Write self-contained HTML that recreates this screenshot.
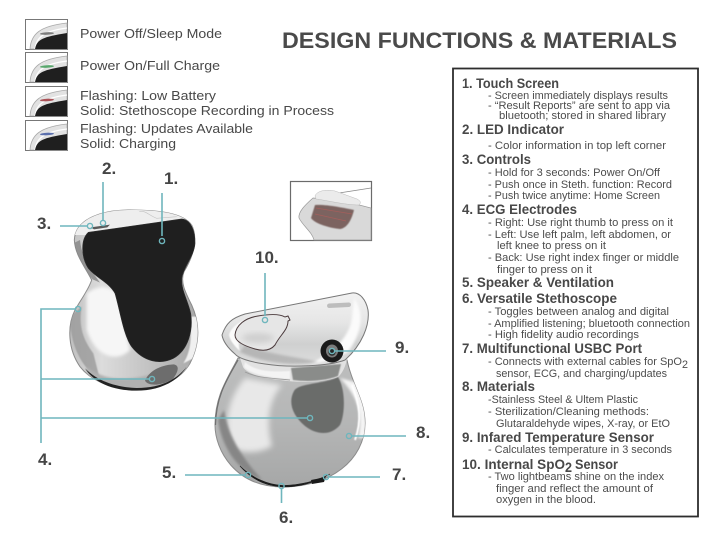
<!DOCTYPE html>
<html lang="en"><head><meta charset="utf-8"><title>Design Functions &amp; Materials</title>
<style>
html,body{margin:0;padding:0;background:#fff;width:713px;height:534px;overflow:hidden}
svg{display:block}
text{font-family:"Liberation Sans",sans-serif;fill:#4a4a4a}
.h{font-size:13.6px;font-weight:bold;fill:#484848}
.s{font-size:11px;fill:#4c4c4c}
.l{font-size:12.8px;fill:#484848}
.n{font-size:17px;font-weight:bold;fill:#454545}
.c{stroke:#6fb6bd;stroke-width:1.6;fill:none}
</style></head><body>
<svg width="713" height="534" viewBox="0 0 713 534" xmlns="http://www.w3.org/2000/svg">
<defs>
<filter id="b0" x="-40%" y="-40%" width="180%" height="180%"><feGaussianBlur stdDeviation="5"/></filter>
<filter id="b1" x="-30%" y="-30%" width="160%" height="160%"><feGaussianBlur stdDeviation="3"/></filter>
<filter id="b2" x="-30%" y="-30%" width="160%" height="160%"><feGaussianBlur stdDeviation="1.2"/></filter>
<filter id="b3" x="-30%" y="-30%" width="160%" height="160%"><feGaussianBlur stdDeviation="0.5"/></filter>
<linearGradient id="bodyA" x1="0" y1="0" x2="0" y2="1"><stop offset="0" stop-color="#bdbebe"/><stop offset=".5" stop-color="#b5b6b6"/><stop offset="1" stop-color="#a6a7a7"/></linearGradient>
<linearGradient id="headA" x1="0" y1="0" x2="0" y2="1"><stop offset="0" stop-color="#f2f2f2"/><stop offset=".4" stop-color="#e6e6e6"/><stop offset=".7" stop-color="#cfd0d0"/><stop offset="1" stop-color="#dedede"/></linearGradient>
<linearGradient id="b1g" x1="0" y1="0" x2="1" y2="0"><stop offset="0" stop-color="#c0c0c0"/><stop offset=".25" stop-color="#dcdcdc"/><stop offset=".7" stop-color="#bdbdbd"/><stop offset="1" stop-color="#a8a8a8"/></linearGradient>
<clipPath id="cb2"><path d="M238 358 C228 378 215 395 215 425 C215 450 235 487 283 487 C330 487 365 460 365 423 C365 400 352 385 347 360Z"/></clipPath>
<clipPath id="cb1"><path d="M163 270 C165 215 230 180 330 180 C420 180 490 190 515 225 C535 265 520 320 492 365 C480 395 495 425 515 465 C540 520 540 580 510 640 C480 690 420 718 350 718 C280 718 215 695 180 650 C145 600 140 530 165 480 C185 445 205 420 215 390 C195 350 165 315 163 270Z"/></clipPath>
<symbol id="thumb" viewBox="0 0 43 31" width="43" height="31">
<rect x=".5" y=".5" width="42" height="30" fill="#fff" stroke="#777" stroke-width="1"/>
<path d="M5 30 C6 15 15 7 42 4 L42 30Z" fill="#e2e2e2" stroke="#aaa" stroke-width=".8"/>
<path d="M10 30 C11 19 18 12 42 9" fill="none" stroke="#fff" stroke-width="1.2"/>
<path d="M10 30 C12 20 18 18 42 14 L42 30Z" fill="#1f1f1f"/>
</symbol>
</defs>

<!-- legend -->
<use href="#thumb" x="25" y="19"/>
<ellipse cx="47" cy="33.5" rx="7" ry="1.3" fill="#7b7b7b" transform="rotate(-3 47 33.5)"/>
<use href="#thumb" x="25" y="52"/>
<ellipse cx="47" cy="66.5" rx="7" ry="1.3" fill="#58a76c" transform="rotate(-3 47 66.5)"/>
<use href="#thumb" x="25" y="86"/>
<ellipse cx="47" cy="100" rx="7" ry="1.3" fill="#ab5257" transform="rotate(-3 47 100)"/>
<use href="#thumb" x="25" y="120"/>
<ellipse cx="47" cy="134" rx="7" ry="1.3" fill="#5b70ad" transform="rotate(-3 47 134)"/>

<text class="l" x="80" y="38" textLength="142" lengthAdjust="spacingAndGlyphs">Power Off/Sleep Mode</text>
<text class="l" x="80" y="70" textLength="140" lengthAdjust="spacingAndGlyphs">Power On/Full Charge</text>
<text class="l" x="80" y="100" textLength="136" lengthAdjust="spacingAndGlyphs">Flashing: Low Battery</text>
<text class="l" x="80" y="115" textLength="254" lengthAdjust="spacingAndGlyphs">Solid: Stethoscope Recording in Process</text>
<text class="l" x="80" y="133" textLength="173" lengthAdjust="spacingAndGlyphs">Flashing: Updates Available</text>
<text class="l" x="80" y="148" textLength="96" lengthAdjust="spacingAndGlyphs">Solid: Charging</text>

<text x="282" y="48" font-size="22.500" font-weight="bold" style="fill:#4a4a4a" textLength="395" lengthAdjust="spacingAndGlyphs">DESIGN FUNCTIONS &amp; MATERIALS</text>

<!-- device 1 -->
<g transform="translate(20 150) scale(.33333)">
<path d="M163 270 C165 215 230 180 330 180 C420 180 490 190 515 225 C535 265 520 320 492 365 C480 395 495 425 515 465 C540 520 540 580 510 640 C480 690 420 718 350 718 C280 718 215 695 180 650 C145 600 140 530 165 480 C185 445 205 420 215 390 C195 350 165 315 163 270Z" fill="url(#b1g)" stroke="#8a8a8a" stroke-width="3"/>
<g clip-path="url(#cb1)">
<rect x="150" y="170" width="400" height="85" fill="#eeeeee"/>
<path d="M200 430 C240 400 280 410 295 440 L330 600 C290 640 225 620 200 540Z" fill="#f6f6f6" filter="url(#b0)"/>
<path d="M150 500 C150 580 180 650 240 690 L220 610 C190 570 175 530 185 470Z" fill="#9a9a9a" filter="url(#b2)" opacity=".8"/>
<path d="M200 650 C260 700 340 690 400 670 L520 640 L480 720 L200 720Z" fill="#b0b0b0" filter="url(#b1)"/>
<path d="M160 280 C165 320 190 355 218 388 L240 398 C205 350 185 320 180 270Z" fill="#8a8a8a" opacity=".85"/>
<path d="M505 500 C520 560 510 610 490 640 L530 620 L540 500Z" fill="#f0f0f0" filter="url(#b2)"/>
</g>
<path d="M195 655 C240 700 300 712 350 714 C420 714 470 690 500 650 C470 700 410 722 350 722 C280 722 225 700 195 655Z" fill="#222"/>
<path d="M358 185 C375 180 385 195 410 205 L470 200" fill="none" stroke="#c4c4c4" stroke-width="2"/>
<path d="M205 247 L485 207 C515 210 525 245 525 280 C522 320 490 350 485 385 C483 420 503 450 512 490 C520 540 505 600 460 625 C420 645 370 635 335 590 C310 555 300 480 285 430 C265 395 230 385 205 355 C185 325 180 270 205 247Z" fill="#1f1f1f" stroke="#2c2c2c" stroke-width="2"/>
<path d="M375 692 C385 665 420 645 460 643 C480 645 475 665 460 685 C435 705 385 712 375 692Z" fill="#6d6d6d" filter="url(#b3)"/>
<path d="M212 232 L270 224 L262 232 L222 238Z" fill="#5a5a5a"/>
</g>

<!-- device 2 body -->
<path d="M238 358 C228 378 215 395 215 425 C215 450 235 487 283 487 C330 487 365 460 365 423 C365 400 352 385 347 360Z" fill="url(#bodyA)" stroke="#8b8b8b" stroke-width="1"/>
<g clip-path="url(#cb2)">
<path d="M245 378 C228 398 222 425 232 448 C246 455 262 452 272 446 C266 425 268 400 282 385Z" fill="#e8e8e8" filter="url(#b1)"/>
<path d="M218 420 C222 450 240 472 262 480 C240 455 228 435 224 410Z" fill="#868686" filter="url(#b2)"/>
<path d="M340 378 C356 395 364 412 358 438 L366 438 L366 385Z" fill="#f4f4f4" filter="url(#b2)"/>
<path d="M352 385 C360 405 362 420 355 440" fill="none" stroke="#ffffff" stroke-width="2" filter="url(#b3)"/>
</g>
<path d="M240 466 C255 483 270 486 283 487 C298 487 312 484 330 474 C315 482 300 485 283 485.500 C268 485 252 478 240 466Z" fill="#1c1c1c" stroke="#1c1c1c" stroke-width=".6"/>
<path d="M311 480 C316 479 322 478 326 476 L324 482 L312 484Z" fill="#1a1a1a"/>
<path d="M238 360 C228 378 216 395 215.500 425" fill="none" stroke="#6f6f6f" stroke-width="1.2"/>
<!-- back window -->
<path d="M294 391 C298 383 325 384 338 377 C346 390 345 415 340 425 C330 437 315 434 305 426 C292 415 288 402 294 391Z" fill="#6b6c6b" filter="url(#b3)"/>

<!-- neck -->
<path d="M240 358 L347 358 C346 366 342 374 338 377 C322 383 300 383 280 380 C262 378 247 374 243 367Z" fill="#e2e2e2"/>
<path d="M291 368 L341 364 L338 376 C325 381 308 382 293 380Z" fill="#8a8c8a" filter="url(#b3)"/>
<path d="M245 362 C255 372 275 372 290 371 L290 379 C270 378 250 374 244 367Z" fill="#f4f4f4" filter="url(#b3)"/>
<path d="M245 372 C258 378 270 378 290 380" fill="none" stroke="#9a9a9a" stroke-width=".8"/>

<!-- device 2 head -->
<path d="M222 335 C226 323 232 318 245 314 L352 293 C360 292 366 300 368 310 C370 325 362 345 345 360 C330 366 290 368 265 364 C250 362 238 358 235 354 C228 348 223 341 222 335Z" fill="url(#headA)" stroke="#777" stroke-width="1"/>
<path d="M229 335 C231 327 240 321 250 318 L258 320 C243 325 236 340 240 351 C234 346 230 340 229 335Z" fill="#fbfbfb" filter="url(#b3)"/>
<path d="M354 298 C364 312 363 332 348 352 C338 358 325 362 310 364 C335 352 350 335 352 318Z" fill="#fbfbfb" filter="url(#b2)"/>
<path d="M240 352 C265 364 295 366 318 362 C300 357 270 355 245 345Z" fill="#a9a9a9" filter="url(#b2)" opacity=".7"/>
<rect x="327" y="303" width="24" height="4.500" rx="2.200" fill="#bdbdbd" transform="rotate(-3 339 305)"/>
<path d="M235 335 C236 325 245 318 258 316 C270 314 280 314 285 317 L288 316 L290 320 L288 321 C288 330 280 335 275 345 C270 351 262 351 255 349 C245 346 235 342 235 335Z" fill="#e6e6e6" stroke="#4a3a3c" stroke-width="1"/>
<ellipse cx="258" cy="338" rx="16" ry="5" fill="#cfcfcf" filter="url(#b1)"/>
<!-- sensor -->
<circle cx="332" cy="351" r="11.500" fill="#1a1a1a"/>
<ellipse cx="332" cy="351" rx="6" ry="6.500" fill="#7c7c7c"/>
<ellipse cx="332" cy="352" rx="3.600" ry="3.800" fill="#262626"/>

<!-- inset -->
<rect x="290.500" y="181.500" width="81" height="59" fill="#fff" stroke="#6b6b6b" stroke-width="1.200"/>
<path d="M313 198 C305 205 298 212 299 218 C303 226 312 232 314 240 L371 240 L371 208 L340 200Z" fill="#d9d9d9" stroke="#9a9a9a" stroke-width=".7"/>
<path d="M339 193 L371 188" stroke="#888" stroke-width=".8" fill="none"/>
<path d="M315 205 C325 204 345 208 354 210 C352 218 348 228 340 229 C330 228 315 224 311 218Z" fill="#7b6360" filter="url(#b3)"/>
<path d="M316 208 L352 214 M315 214 L346 221" stroke="#a45f5c" stroke-width=".7" fill="none"/>
<path d="M315 196 C317 191 325 189 335 191 L357 199 C361 201 361 203 359 205 C345 205 325 200 316 199Z" fill="#ebebeb" stroke="#bbb" stroke-width=".5"/>

<!-- connectors -->
<g class="c">
<path d="M162 193V236"/><circle cx="162" cy="241" r="2.600" stroke-width="1.400"/>
<path d="M103 182V220"/><circle cx="103" cy="223" r="2.600" stroke-width="1.400"/>
<path d="M60 226H87"/><circle cx="90" cy="226" r="2.600" stroke-width="1.400"/>
<path d="M41 443V309H75"/><circle cx="78" cy="309" r="2.600" stroke-width="1.400"/>
<path d="M41 379H149"/><circle cx="152" cy="379" r="2.600" stroke-width="1.400"/>
<path d="M41 418H307"/><circle cx="310" cy="418" r="2.600" stroke-width="1.400"/>
<path d="M265 273V316"/><circle cx="265" cy="320" r="2.600" stroke-width="1.400"/>
<path d="M335 351H386"/><circle cx="332" cy="351" r="2.600" stroke-width="1.400"/>
<path d="M352 436H406"/><circle cx="349" cy="436" r="2.600" stroke-width="1.400"/>
<path d="M185 475H245"/><circle cx="248" cy="475" r="2.600" stroke-width="1.400"/>
<path d="M329 477H380"/><circle cx="326" cy="477" r="2.600" stroke-width="1.400"/>
<path d="M281.500 489V503"/><circle cx="281.500" cy="486" r="2.600" stroke-width="1.400"/>
</g>

<!-- numbers -->
<text class="n" x="164" y="184">1.</text>
<text class="n" x="102" y="174">2.</text>
<text class="n" x="37" y="229">3.</text>
<text class="n" x="38" y="465">4.</text>
<text class="n" x="162" y="478">5.</text>
<text class="n" x="279" y="523">6.</text>
<text class="n" x="392" y="480">7.</text>
<text class="n" x="416" y="438">8.</text>
<text class="n" x="395" y="353">9.</text>
<text class="n" x="255" y="263">10.</text>

<!-- info box -->
<rect x="453" y="68.500" width="245" height="448" fill="#fff" stroke="#2e2e2e" stroke-width="1.800"/>
<text class="h" x="462" y="88" textLength="97" lengthAdjust="spacingAndGlyphs">1. Touch Screen</text>
<text class="s" x="488" y="99" textLength="180" lengthAdjust="spacingAndGlyphs">- Screen immediately displays results</text>
<text class="s" x="488" y="109" textLength="182" lengthAdjust="spacingAndGlyphs">- “Result Reports” are sent to app via</text>
<text class="s" x="499" y="119" textLength="167" lengthAdjust="spacingAndGlyphs">bluetooth; stored in shared library</text>
<text class="h" x="462" y="134" textLength="102" lengthAdjust="spacingAndGlyphs">2. LED Indicator</text>
<text class="s" x="488" y="149" textLength="178" lengthAdjust="spacingAndGlyphs">- Color information in top left corner</text>
<text class="h" x="462" y="164" textLength="69" lengthAdjust="spacingAndGlyphs">3. Controls</text>
<text class="s" x="488" y="176" textLength="172" lengthAdjust="spacingAndGlyphs">- Hold for 3 seconds: Power On/Off</text>
<text class="s" x="488" y="188" textLength="184" lengthAdjust="spacingAndGlyphs">- Push once in Steth. function: Record</text>
<text class="s" x="488" y="199" textLength="172" lengthAdjust="spacingAndGlyphs">- Push twice anytime: Home Screen</text>
<text class="h" x="462" y="214" textLength="115" lengthAdjust="spacingAndGlyphs">4. ECG Electrodes</text>
<text class="s" x="488" y="226" textLength="185" lengthAdjust="spacingAndGlyphs">- Right: Use right thumb to press on it</text>
<text class="s" x="488" y="238" textLength="183" lengthAdjust="spacingAndGlyphs">- Left: Use left palm, left abdomen, or</text>
<text class="s" x="497" y="249" textLength="109" lengthAdjust="spacingAndGlyphs">left knee to press on it</text>
<text class="s" x="488" y="261" textLength="191" lengthAdjust="spacingAndGlyphs">- Back: Use right index finger or middle</text>
<text class="s" x="497" y="273" textLength="95" lengthAdjust="spacingAndGlyphs">finger to press on it</text>
<text class="h" x="462" y="287" textLength="152" lengthAdjust="spacingAndGlyphs">5. Speaker &amp; Ventilation</text>
<text class="h" x="462" y="303" textLength="155" lengthAdjust="spacingAndGlyphs">6. Versatile Stethoscope</text>
<text class="s" x="488" y="315" textLength="181" lengthAdjust="spacingAndGlyphs">- Toggles between analog and digital</text>
<text class="s" x="488" y="327" textLength="202" lengthAdjust="spacingAndGlyphs">- Amplified listening; bluetooth connection</text>
<text class="s" x="488" y="338" textLength="151" lengthAdjust="spacingAndGlyphs">- High fidelity audio recordings</text>
<text class="h" x="462" y="353" textLength="180" lengthAdjust="spacingAndGlyphs">7. Multifunctional USBC Port</text>
<text class="s" x="488" y="365" textLength="194" lengthAdjust="spacingAndGlyphs">- Connects with external cables for SpO</text>
<text class="s" x="682" y="368" textLength="6" lengthAdjust="spacingAndGlyphs">2</text>
<text class="s" x="496" y="377" textLength="171" lengthAdjust="spacingAndGlyphs">sensor, ECG, and charging/updates</text>
<text class="h" x="462" y="391" textLength="73" lengthAdjust="spacingAndGlyphs">8. Materials</text>
<text class="s" x="488" y="403" textLength="150" lengthAdjust="spacingAndGlyphs">-Stainless Steel &amp; Ultem Plastic</text>
<text class="s" x="488" y="415" textLength="161" lengthAdjust="spacingAndGlyphs">- Sterilization/Cleaning methods:</text>
<text class="s" x="496" y="427" textLength="174" lengthAdjust="spacingAndGlyphs">Glutaraldehyde wipes, X-ray, or EtO</text>
<text class="h" x="462" y="442" textLength="192" lengthAdjust="spacingAndGlyphs">9. Infared Temperature Sensor</text>
<text class="s" x="488" y="453" textLength="184" lengthAdjust="spacingAndGlyphs">- Calculates temperature in 3 seconds</text>
<text class="h" x="462" y="469" textLength="103" lengthAdjust="spacingAndGlyphs">10. Internal SpO</text>
<text class="h" x="565" y="472" textLength="7" lengthAdjust="spacingAndGlyphs">2</text>
<text class="h" x="575" y="469" textLength="43" lengthAdjust="spacingAndGlyphs">Sensor</text>
<text class="s" x="488" y="480" textLength="176" lengthAdjust="spacingAndGlyphs">- Two lightbeams shine on the index</text>
<text class="s" x="496" y="492" textLength="157" lengthAdjust="spacingAndGlyphs">finger and reflect the amount of</text>
<text class="s" x="496" y="503" textLength="100" lengthAdjust="spacingAndGlyphs">oxygen in the blood.</text>
</svg>
</body></html>
